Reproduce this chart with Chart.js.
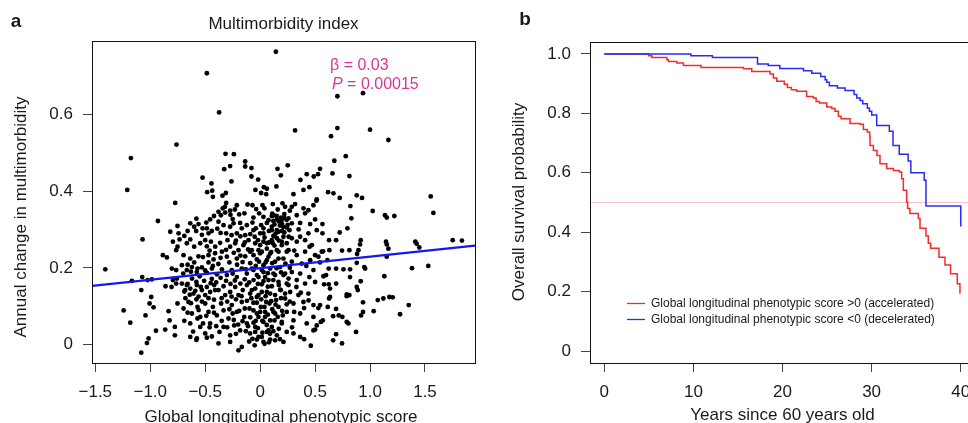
<!DOCTYPE html>
<html lang="en">
<head>
<meta charset="UTF-8">
<title>Multimorbidity and survival</title>
<script src="https://cdn.jsdelivr.net/npm/chart.js@4"></script>
<style>
  html, body { margin: 0; padding: 0; background: #fff; }
  body { width: 968px; height: 423px; overflow: hidden; position: relative; }
  canvas { position: absolute; top: 0; }
  #scatterChart { left: 0; }
  #survivalChart { left: 484px; }
</style>
</head>
<body>
<canvas id="scatterChart" width="484" height="423"></canvas>
<canvas id="survivalChart" width="500" height="423"></canvas>
<script>
// panel a: annual change in multimorbidity against the global longitudinal phenotypic score
const scatterPoints = [
  // upper and outer points
  [0.143,0.763],[-0.485,0.707],[-0.373,0.605],[-0.761,0.521],[-1.176,0.486],[-1.209,0.403],
  [-0.315,0.497],[-0.239,0.496],[-0.136,0.477],[-0.136,0.464],[-0.079,0.460],[-0.273,0.465],
  [-0.327,0.457],[-0.524,0.435],[-0.443,0.420],[-0.261,0.425],[-0.079,0.438],[-0.018,0.430],
  [0.158,0.458],[0.188,0.441],[0.251,0.467],[0.148,0.412],[-0.436,0.401],[-0.482,0.397],
  [-0.430,0.385],[-0.343,0.388],[-0.312,0.395],[-0.043,0.403],[0.009,0.395],[0.034,0.410],
  [0.061,0.406],
  [0.703,0.647],[0.936,0.655],[0.318,0.558],[0.703,0.564],[0.645,0.543],[1.000,0.560],
  [1.167,0.533],[0.779,0.491],[0.675,0.479],[0.545,0.458],[0.527,0.444],[0.488,0.438],
  [0.424,0.444],[0.658,0.446],[0.812,0.439],[0.367,0.429],[0.448,0.410],[0.394,0.403],
  [0.303,0.392],[0.618,0.397],[0.667,0.394],[0.724,0.382],[0.879,0.389],[0.927,0.382],
  [1.552,0.386],[0.515,0.378],
  // right-hand side
  [1.576,0.343],[1.024,0.348],[1.136,0.337],[1.152,0.331],[1.221,0.335],[0.821,0.361],
  [0.830,0.329],[0.794,0.303],[0.724,0.292],[0.567,0.314],[0.512,0.375],[0.567,0.290],
  [0.627,0.272],[0.691,0.272],[0.630,0.246],[0.573,0.243],[0.915,0.272],[0.909,0.261],
  [0.894,0.246],[0.882,0.236],[0.812,0.246],[0.745,0.245],[1.145,0.268],[1.152,0.261],
  [1.167,0.250],[1.152,0.229],[1.412,0.268],[1.424,0.263],[1.448,0.253],[1.752,0.272],
  [1.836,0.271],[1.382,0.199],[1.530,0.205],[0.948,0.202],[0.955,0.198],[0.879,0.213],
  [0.818,0.196],[0.758,0.196],[0.691,0.198],[0.818,0.176],[0.915,0.165],[0.879,0.150],
  [0.888,0.142],[1.130,0.178],[0.788,0.131],[0.812,0.129],[0.788,0.126],[1.070,0.116],
  [1.121,0.120],[1.176,0.124],[1.206,0.123],[1.352,0.103],[1.273,0.079],[1.033,0.087],
  [0.936,0.085],[0.918,0.076],[0.936,0.110],[0.873,0.033],[0.748,0.072],[0.715,0.076],
  [0.664,0.074],[0.691,0.093],[0.803,0.055],[0.788,0.059],[0.691,0.027],[0.664,0.011],
  [0.745,0.003],[0.570,0.063],[0.552,0.059],[0.615,0.098],[0.530,0.095],[0.545,0.103],
  [0.627,0.120],[0.636,0.124],[0.582,0.157],[0.576,0.178],[0.600,0.181],[0.624,0.157],
  [0.636,0.146],[0.691,0.159],[0.624,0.198],[0.612,0.220],[0.545,0.214],[0.530,0.229],
  [0.561,0.242],[0.461,-0.003],[0.515,0.050],[0.500,0.039],[0.485,0.037],
  // left-hand side
  [-1.409,0.196],[-1.167,0.166],[-1.073,0.176],[-0.930,0.322],[-1.070,0.274],[-0.773,0.369],
  [-1.082,0.142],[-0.985,0.170],[-1.024,0.168],[-1.242,0.089],[-1.182,0.057],[-1.043,0.076],
  [-0.991,0.124],[-1.006,0.107],[-0.970,0.097],[-0.948,0.036],[-1.015,0.016],[-1.030,0.004],
  [-1.082,-0.021],[-0.833,0.087],[-0.824,0.063],[-0.864,0.039],[-0.776,0.046],[-0.776,0.024],
  [-0.885,0.233],[-0.848,0.227],[-0.818,0.294],[-0.752,0.309],[-0.794,0.268],[-0.733,0.274],
  [-0.764,0.246],[-0.752,0.255],[-0.861,0.152],[-0.806,0.150],[-0.764,0.194],
  // central cloud, by band of annual change
  [-0.309,0.369],[-0.212,0.363],[-0.115,0.365],[-0.070,0.363],[-0.036,0.353],[0.021,0.363],
  [0.039,0.355],[0.115,0.366],[0.203,0.368],[0.227,0.359],[-0.379,0.346],[-0.357,0.337],
  [-0.318,0.344],[-0.273,0.349],[-0.455,0.326],[-0.191,0.339],[-0.143,0.342],[-0.061,0.331],
  [-0.009,0.342],[0.030,0.333],[0.106,0.335],[0.152,0.326],[0.218,0.331],
  [-0.636,0.316],[-0.600,0.307],[-0.561,0.314],[-0.582,0.296],[-0.524,0.303],[-0.485,0.303],
  [-0.470,0.290],[-0.742,0.290],[-0.379,0.320],[-0.333,0.311],[-0.273,0.307],[-0.309,0.290],
  [-0.242,0.316],[-0.182,0.317],[-0.167,0.303],[-0.121,0.311],[-0.070,0.318],[-0.039,0.303],
  [0.009,0.311],[0.061,0.317],[0.106,0.307],[0.152,0.298],[0.197,0.316],[0.242,0.305],
  [-0.212,0.290],[-0.136,0.285],[0.030,0.290],[0.121,0.283],[0.212,0.281],
  [-0.667,0.264],[-0.636,0.274],[-0.600,0.255],[-0.545,0.264],[-0.500,0.272],[-0.485,0.256],
  [-0.448,0.268],[-0.409,0.255],[-0.364,0.265],[-0.348,0.242],[-0.297,0.272],[-0.273,0.255],
  [-0.227,0.264],[-0.197,0.246],[-0.152,0.259],[-0.106,0.272],[-0.091,0.242],[-0.045,0.264],
  [-0.015,0.246],[0.030,0.268],[0.061,0.250],[0.115,0.264],[0.152,0.246],[0.197,0.259],
  [0.242,0.242],[-0.697,0.233],[-0.636,0.224],[-0.561,0.230],[-0.470,0.233],[-0.424,0.222],
  [-0.303,0.229],[-0.212,0.224],[-0.136,0.230],[-0.030,0.222],[0.076,0.229],[0.167,0.224],
  [-0.803,0.198],[-0.712,0.207],[-0.667,0.194],[-0.621,0.202],[-0.576,0.189],[-0.530,0.201],
  [-0.485,0.187],[-0.439,0.198],[-0.394,0.183],[-0.348,0.196],[-0.303,0.181],[-0.258,0.194],
  [-0.212,0.176],[-0.167,0.198],[-0.121,0.185],[-0.076,0.198],[-0.030,0.181],[0.015,0.194],
  [0.045,0.176],[0.091,0.198],[0.136,0.181],[0.182,0.202],[0.227,0.185],[0.258,0.172],
  [-0.758,0.172],
  [-0.794,0.168],[-0.764,0.159],[-0.712,0.159],[-0.682,0.142],[-0.667,0.155],[-0.636,0.146],
  [-0.606,0.133],[-0.576,0.155],[-0.530,0.142],[-0.485,0.150],[-0.500,0.129],[-0.455,0.137],
  [-0.418,0.155],[-0.379,0.142],[-0.333,0.152],[-0.318,0.129],[-0.273,0.137],[-0.227,0.150],
  [-0.197,0.129],[-0.158,0.142],[-0.121,0.155],[-0.091,0.133],[-0.045,0.146],[-0.015,0.129],
  [0.015,0.157],[0.061,0.137],[0.106,0.152],[0.136,0.129],[0.182,0.143],[0.227,0.133],
  [0.258,0.155],
  [-0.752,0.107],[-0.697,0.094],[-0.652,0.111],[-0.621,0.081],[-0.570,0.098],[-0.545,0.072],
  [-0.500,0.107],[-0.470,0.085],[-0.430,0.098],[-0.394,0.076],[-0.355,0.107],[-0.333,0.089],
  [-0.288,0.068],[-0.258,0.103],[-0.212,0.085],[-0.167,0.111],[-0.145,0.072],[-0.097,0.094],
  [-0.061,0.109],[-0.030,0.081],[0.006,0.098],[0.045,0.072],[0.085,0.107],[0.121,0.085],
  [0.167,0.098],[0.206,0.076],[0.242,0.105],
  [-0.636,0.055],[-0.570,0.068],[-0.545,0.046],[-0.500,0.029],[-0.455,0.055],[-0.370,0.033],
  [-0.333,0.046],[-0.273,0.024],[-0.236,0.050],[-0.182,0.037],[-0.121,0.055],[-0.091,0.029],
  [-0.045,0.046],[-0.015,0.020],[0.030,0.059],[0.061,0.033],[0.106,0.046],[0.152,0.024],
  [0.197,0.055],[0.242,0.033],
  [-0.379,0.003],[-0.197,-0.015],[-0.167,-0.006],[-0.030,0.013],[0.030,0.007],[0.212,0.007],
  [-0.636,0.020],[-0.576,0.016],[-0.485,0.018],[-0.273,0.007],[0.091,0.013],
  [0.055,0.392],[0.288,0.359],[0.318,0.366],[0.394,0.355],[0.439,0.350],[0.485,0.363],
  [0.076,0.324],[0.121,0.337],[0.197,0.326],[0.258,0.329],[0.288,0.316],[0.333,0.337],
  [0.364,0.317],[0.409,0.342],[0.455,0.314],[0.500,0.326],
  [-0.061,0.298],[0.000,0.290],[0.030,0.303],[0.106,0.298],[0.167,0.294],[0.267,0.298],
  [0.288,0.277],[0.333,0.268],[0.364,0.281],[0.409,0.272],[0.439,0.290],[0.470,0.259],
  [0.515,0.298],[0.000,0.259],[0.061,0.264],[0.106,0.272],[0.152,0.277],[0.197,0.268],
  [0.242,0.264],
  [-0.076,0.246],[0.015,0.242],[0.061,0.220],[0.091,0.237],[0.136,0.216],[0.167,0.242],
  [0.212,0.224],[0.258,0.246],[0.288,0.216],[0.333,0.233],[0.379,0.211],[0.409,0.242],
  [0.455,0.220],[0.500,0.233],
  [-0.061,0.194],[-0.015,0.176],[0.030,0.189],[0.076,0.168],[0.121,0.185],[0.167,0.163],
  [0.212,0.181],[0.242,0.159],[0.288,0.189],[0.333,0.168],[0.364,0.185],[0.409,0.159],
  [0.448,0.176],[0.485,0.194],[0.500,0.163],
  [-0.076,0.142],[-0.030,0.124],[0.015,0.137],[0.055,0.111],[0.091,0.133],[0.145,0.116],
  [0.188,0.142],[0.227,0.120],[0.273,0.137],[0.303,0.107],[0.348,0.129],[0.394,0.111],
  [0.439,0.133],[0.485,0.103],
  [-0.061,0.089],[-0.015,0.072],[0.045,0.085],[0.091,0.063],[0.136,0.081],[0.197,0.059],
  [0.242,0.085],[0.303,0.063],[0.364,0.081],[0.424,0.055],[0.485,0.072],
  [-0.045,0.033],[0.015,0.020],[0.076,0.037],[0.136,0.011],[0.303,0.029],[0.364,0.020],
  // densest part of the cloud
  [-0.62,0.172],[-0.58,0.163],[-0.66,0.158],[-0.55,0.178],[-0.51,0.166],[-0.44,0.171],
  [-0.40,0.162],[-0.36,0.174],[-0.31,0.166],[-0.27,0.158],[-0.23,0.167],[-0.18,0.159],
  [-0.14,0.170],[-0.10,0.162],[-0.06,0.168],[-0.02,0.158],[0.03,0.165],[0.07,0.151],
  [0.12,0.168],[0.17,0.155],
  [-0.35,0.121],[-0.30,0.112],[-0.26,0.125],[-0.22,0.118],[-0.17,0.126],[-0.12,0.114],
  [-0.08,0.121],[-0.03,0.109],[0.01,0.118],[0.05,0.126],[0.10,0.113],[0.14,0.104],[0.19,0.121],
  [-0.16,0.061],[-0.11,0.048],[-0.06,0.057],[-0.02,0.043],[0.02,0.062],[0.06,0.051],
  [0.09,0.028],[0.13,0.063],[0.17,0.041],[-0.20,0.052],[-0.25,0.081],
  [0.08,0.296],[0.13,0.313],[0.17,0.321],[0.21,0.307],[0.14,0.289],[0.19,0.331],[0.24,0.325],
  [0.11,0.341],[-0.27,0.338],[-0.23,0.352],[-0.32,0.359],[-0.25,0.327],
  [-0.52,0.228],[-0.46,0.245],[-0.41,0.238],[-0.36,0.226],[-0.31,0.247],[-0.24,0.239],
  [-0.18,0.232],[-0.11,0.248],[-0.06,0.233],[0.00,0.238],[0.05,0.214],[0.10,0.241],
  [-0.68,0.121],[-0.63,0.108],[-0.58,0.118],[-0.53,0.112],[-0.47,0.121],[-0.42,0.117],
  [-0.28,0.092],[-0.24,0.064],[-0.19,0.088],[-0.14,0.094],[-0.13,0.035],[-0.09,0.071],
  [-0.07,0.015],[-0.04,0.062],[0.00,0.085],[0.02,0.031],[0.04,0.098],[0.07,0.078],
  [0.08,0.006],[0.11,0.092],[0.12,0.035],[0.16,0.072],[0.18,0.014],[0.20,0.088],
  [-0.22,0.028],[-0.10,0.008],[-0.05,-0.002],[0.04,0.002],[-0.30,0.045],[-0.35,0.062],
  [-0.42,0.083],[-0.46,0.045],
  [-0.70,0.185],[-0.66,0.208],[-0.63,0.190],[-0.60,0.214],[-0.57,0.198],[-0.54,0.150],
  [-0.50,0.193],[-0.47,0.214],[-0.45,0.160],[-0.43,0.205],[-0.41,0.142],[-0.38,0.210],
  [-0.69,0.138],[-0.64,0.130],[-0.59,0.140],[-0.56,0.125],
  [-0.28,0.214],[-0.25,0.185],[-0.21,0.208],[-0.16,0.215],[-0.13,0.196],[-0.09,0.212],
  [-0.04,0.205],[-0.01,0.216],[0.03,0.207],[0.07,0.186],[0.11,0.212],[0.15,0.199],
  [0.19,0.188],[0.23,0.211],[0.27,0.200],
  [-0.26,0.285],[-0.22,0.271],[-0.18,0.282],[-0.14,0.266],[-0.09,0.288],[-0.05,0.281],
  [-0.02,0.272],[0.04,0.279],[0.08,0.266],[0.13,0.258],[0.17,0.271],[0.22,0.292],[0.26,0.281],
  [0.12,0.322],[0.15,0.335],[0.18,0.310],[0.22,0.340],[0.25,0.312],[0.27,0.349],[0.16,0.352],
  [0.20,0.296],
  [-0.58,0.328],[-0.53,0.286],[-0.49,0.318],[-0.44,0.296],[-0.42,0.335],[-0.39,0.302],
  [-0.36,0.291],[-0.34,0.355],[-0.66,0.296],[-0.69,0.283],
  [-0.69,0.062],[-0.66,0.083],[-0.61,0.034],[-0.56,0.090],[-0.52,0.055],[-0.49,0.075],
  [-0.44,0.021],[-0.40,0.048],[-0.58,0.012],
  [0.27,0.112],[0.31,0.085],[0.33,0.150],[0.37,0.135],[0.40,0.095],[0.42,0.205],
  [0.45,0.255],[0.31,0.245],[0.35,0.300],[0.29,0.045],[0.40,0.014],[0.44,0.115]
];
const fitBeta = 0.03;
const fitIntercept = 0.199;
const scoreRange = [-1.53, 1.955];
const changeRange = [-0.048, 0.791];
const scoreTicks = [-1.5, -1, -0.5, 0, 0.5, 1, 1.5];
const changeTicks = [0, 0.2, 0.4, 0.6];

// panel b: Kaplan-Meier survival by sign of the score
const accelYears = [0, 4.97, 5.34, 7.03, 7.21, 8.15, 8.89, 10.87, 15.62, 16.55, 18.61, 18.98, 19.36,
  20.2, 20.55, 21.0, 21.6, 22.7, 23.47, 23.77, 24.14, 24.96, 25.52, 25.9, 26.27, 26.57, 27.58,
  28.7, 29.08, 29.52, 29.78, 29.82, 30.2, 30.6, 30.94, 31.69, 32.44, 33.11, 33.37, 33.56, 33.93,
  34.04, 34.3, 35.24, 35.43, 36.1, 36.36, 36.62, 37.56, 38.23, 38.86, 39.61, 39.91];
const accelSurv = [1, 0.994, 0.988, 0.980, 0.974, 0.969, 0.961, 0.954, 0.950, 0.941, 0.932, 0.919, 0.908,
  0.898, 0.887, 0.879, 0.874, 0.857, 0.852, 0.840, 0.835, 0.821, 0.816, 0.807, 0.790, 0.782, 0.766,
  0.763, 0.746, 0.737, 0.723, 0.692, 0.675, 0.658, 0.630, 0.614, 0.608, 0.603, 0.580, 0.541, 0.502,
  0.480, 0.463, 0.446, 0.413, 0.387, 0.363, 0.346, 0.316, 0.290, 0.260, 0.227, 0.193];
const decelYears = [0, 9.72, 12.14, 17.2, 18.4, 19.7, 22.35, 23.28, 24.29, 24.78, 24.96, 25.26, 26.16,
  27.02, 28.03, 28.33, 28.7, 29.0, 29.52, 29.75, 30.01, 30.57, 31.99, 32.4, 33.1, 34.1, 34.4, 35.9,
  36.1, 40.0];
const decelSurv = [1, 0.994, 0.988, 0.966, 0.961, 0.951, 0.943, 0.935, 0.924, 0.913, 0.905, 0.893, 0.885,
  0.877, 0.863, 0.852, 0.843, 0.832, 0.818, 0.807, 0.794, 0.759, 0.740, 0.692, 0.662, 0.640, 0.600, 0.575,
  0.488, 0.419];
const medianLine = 0.5;
const yearRange = [-1.6, 41.6];
const survRange = [-0.04, 1.04];
const yearTicks = [0, 10, 20, 30, 40];
const survTicks = [0, 0.2, 0.4, 0.6, 0.8, 1];

const FONT = '"Liberation Sans", Arial, Helvetica, sans-serif';
const INK = '#1a1a1a';
Chart.defaults.font.family = FONT;
Chart.defaults.color = INK;

const fmtDec = v => v === 0 ? '0' : (v < 0 ? '\u2212' : '') + Math.abs(v).toFixed(1);

function axis(pos, range, ticks, fmt, size) {
  return {
    type: 'linear',
    position: pos,
    min: range[0],
    max: range[1],
    afterBuildTicks: s => { s.ticks = ticks.map(v => ({ value: v })); },
    afterFit: s => { if (pos === 'left') s.width = size; else s.height = size; },
    grid: { drawOnChartArea: false, drawTicks: true, tickLength: 9, color: '#444', lineWidth: 1 },
    border: { display: false },
    ticks: { padding: 10, font: { size: 17 }, color: INK, maxRotation: 0, autoSkip: false,
             callback: v => fmt(v) }
  };
}

// box around the plot region plus the free-standing text
const decor = {
  id: 'decor',
  afterDraw(chart, args, opts) {
    const { ctx, chartArea: a } = chart;
    ctx.save();
    ctx.strokeStyle = '#111';
    ctx.lineWidth = 1;
    ctx.strokeRect(Math.round(a.left) + 0.5, Math.round(a.top) + 0.5,
                   Math.round(a.right - a.left), Math.round(a.bottom - a.top));
    (opts.texts || []).forEach(t => {
      ctx.save();
      ctx.font = t.font;
      ctx.fillStyle = t.color || INK;
      ctx.textAlign = t.align || 'center';
      ctx.textBaseline = 'middle';
      ctx.translate(t.x, t.y);
      if (t.rotate) ctx.rotate(t.rotate);
      if (t.italicLead) {
        ctx.font = 'italic ' + t.font;
        ctx.fillText(t.italicLead, 0, 0);
        const w = ctx.measureText(t.italicLead).width;
        ctx.font = t.font;
        ctx.fillText(t.text, w, 0);
      } else {
        ctx.fillText(t.text, 0, 0);
      }
      ctx.restore();
    });
    (opts.legend || []).forEach(l => {
      ctx.strokeStyle = l.color;
      ctx.lineWidth = 1.3;
      ctx.beginPath();
      ctx.moveTo(l.x, l.y);
      ctx.lineTo(l.x + 18, l.y);
      ctx.stroke();
      ctx.font = '12px ' + FONT;
      ctx.fillStyle = INK;
      ctx.textAlign = 'left';
      ctx.textBaseline = 'middle';
      ctx.fillText(l.label, l.x + 24, l.y);
    });
    ctx.restore();
  }
};

const fitLine = scoreRange.map(x => ({ x, y: fitIntercept + fitBeta * x }));

new Chart(document.getElementById('scatterChart'), {
  type: 'scatter',
  data: {
    datasets: [
      { type: 'line', data: fitLine, borderColor: '#1515f0', borderWidth: 2.2, pointRadius: 0, order: 0 },
      { data: scatterPoints.map(p => ({ x: p[0], y: p[1] })), backgroundColor: '#000',
        borderWidth: 0, pointRadius: 2.4, order: 1 }
    ]
  },
  options: {
    responsive: false,
    animation: false,
    devicePixelRatio: 1,
    layout: { padding: { top: 41, right: 9, left: 0, bottom: 0 } },
    plugins: {
      legend: { display: false },
      tooltip: { enabled: false },
      decor: {
        texts: [
          { text: 'a', x: 16, y: 22, font: 'bold 19px ' + FONT },
          { text: 'Multimorbidity index', x: 283.5, y: 24, font: '17px ' + FONT },
          { text: 'Annual change in multimorbidity', x: 21, y: 217, rotate: -Math.PI / 2, font: '17px ' + FONT },
          { text: 'Global longitudinal phenotypic score', x: 281, y: 417, font: '17px ' + FONT },
          { text: '\u03b2 = 0.03', x: 330, y: 66, align: 'left', color: '#d6359b', font: '16px ' + FONT },
          { italicLead: 'P', text: ' = 0.00015', x: 332, y: 85, align: 'left', color: '#d6359b', font: '16px ' + FONT }
        ]
      }
    },
    scales: {
      x: axis('bottom', scoreRange, scoreTicks, fmtDec, 60),
      y: axis('left', changeRange, changeTicks, fmtDec, 92)
    }
  },
  plugins: [decor]
});

const kmPoints = (xs, ys) => xs.map((x, i) => ({ x, y: ys[i] }));

new Chart(document.getElementById('survivalChart'), {
  type: 'line',
  data: {
    datasets: [
      { data: kmPoints(decelYears, decelSurv), borderColor: '#2a2af5', borderWidth: 1.5,
        stepped: 'before', pointRadius: 0, fill: false, order: 0 },
      { data: kmPoints(accelYears, accelSurv), borderColor: '#f52a2a', borderWidth: 1.5,
        stepped: 'before', pointRadius: 0, fill: false, order: 1 },
      { data: yearRange.map(x => ({ x, y: medianLine })), borderColor: '#f8c3ca', borderWidth: 1,
        pointRadius: 0, fill: false, order: 2 }
    ]
  },
  options: {
    responsive: false,
    animation: false,
    devicePixelRatio: 1,
    layout: { padding: { top: 42, right: 9, left: 0, bottom: 0 } },
    plugins: {
      legend: { display: false },
      tooltip: { enabled: false },
      decor: {
        texts: [
          { text: 'b', x: 41, y: 20, font: 'bold 19px ' + FONT },
          { text: 'Overall survival probability', x: 35.5, y: 202, rotate: -Math.PI / 2, font: '17px ' + FONT },
          { text: 'Years since 60 years old', x: 298.5, y: 415, font: '17px ' + FONT }
        ],
        legend: [
          { label: 'Global longitudinal phenotypic score >0 (accelerated)', color: '#f52a2a', x: 143, y: 303.5 },
          { label: 'Global longitudinal phenotypic score <0 (decelerated)', color: '#2a2af5', x: 143, y: 319.5 }
        ]
      }
    },
    scales: {
      x: axis('bottom', yearRange, yearTicks, v => String(v), 60),
      y: axis('left', survRange, survTicks, fmtDec, 106)
    }
  },
  plugins: [decor]
});
</script>
</body>
</html>
